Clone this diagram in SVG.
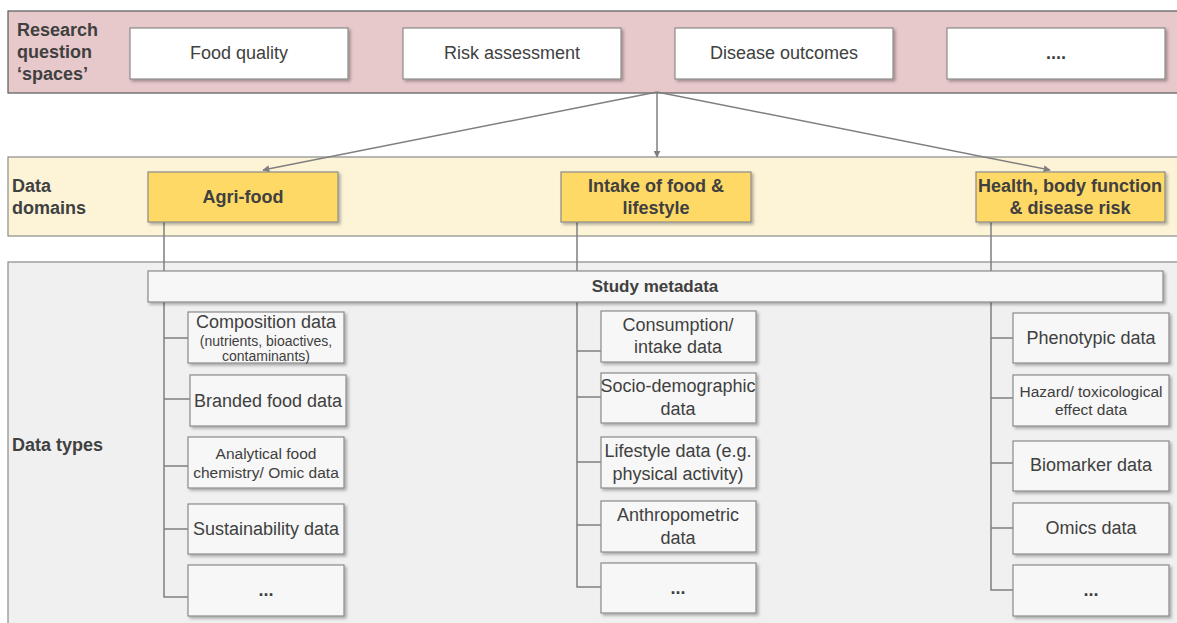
<svg xmlns="http://www.w3.org/2000/svg" width="1177" height="623" viewBox="0 0 1177 623">
  <style>
    text { font-family: "Liberation Sans", Arial, sans-serif; fill: #404040; }
    .lbl { font-size: 18px; font-weight: bold; }
    .q { fill: #ffffff; stroke: #8a8a8a; stroke-width: 1.2; }
    .qt { font-size: 18px; text-anchor: middle; }
    .dom { fill: #ffd966; stroke: #8a8a8a; stroke-width: 1.2; }
    .domt { font-size: 18px; font-weight: bold; text-anchor: middle; }
    .meta { font-size: 17px; font-weight: bold; text-anchor: middle; }
    .box { fill: #f7f7f7; stroke: #8a8a8a; stroke-width: 1.2; }
    .bt { font-size: 18px; text-anchor: middle; }
    .bs { font-size: 15.5px; text-anchor: middle; }
    .bxs { font-size: 14px; text-anchor: middle; }
    .dots { font-weight: bold; }
    .conn { fill: none; stroke: #7f7f7f; stroke-width: 1.5; }
  </style>
  <defs>
    <filter id="shadow" x="-10%" y="-10%" width="130%" height="140%">
      <feDropShadow dx="2" dy="2" stdDeviation="1.5" flood-color="#000" flood-opacity="0.3"/>
    </filter>
    <marker id="arrow" viewBox="0 0 10 10" refX="9" refY="5" markerWidth="7" markerHeight="7" orient="auto-start-reverse" markerUnits="userSpaceOnUse">
      <path d="M0,0 L10,5 L0,10 z" fill="#7f7f7f"/>
    </marker>
  </defs>

  <!-- background bands -->
  <g id="band-questions">
    <rect x="8" y="11" width="1175" height="82" fill="#e8c9cb" stroke="#595959" stroke-width="1.2"/>
    <text class="lbl" x="17" y="36">Research</text>
    <text class="lbl" x="17" y="58">question</text>
    <text class="lbl" x="17" y="80">‘spaces’</text>
  </g>
  <g id="band-domains">
    <rect x="8" y="157" width="1175" height="79" fill="#fdf4d8" stroke="#8a8a8a" stroke-width="1.2"/>
    <text class="lbl" x="12" y="192">Data</text>
    <text class="lbl" x="12" y="214">domains</text>
  </g>
  <g id="band-types">
    <rect x="8" y="262" width="1175" height="370" fill="#f0f0f0" stroke="#8a8a8a" stroke-width="1.2"/>
    <text class="lbl" x="12" y="451">Data types</text>
  </g>

  <!-- connectors -->
  <g id="connectors">
    <line class="conn" x1="657" y1="92" x2="263" y2="170" marker-end="url(#arrow)"/>
    <line class="conn" x1="657" y1="92" x2="657" y2="157" marker-end="url(#arrow)"/>
    <line class="conn" x1="657" y1="92" x2="1050" y2="170" marker-end="url(#arrow)"/>
    <path class="conn" d="M164,222 V597 H188 M164,338 H188 M164,399 H190 M164,466 H188 M164,529 H188"/>
    <path class="conn" d="M577,222 V587 H601 M577,351 H601 M577,397 H601 M577,462 H601 M577,525 H601"/>
    <path class="conn" d="M991,222 V590 H1013 M991,338 H1013 M991,398 H1013 M991,463 H1013 M991,528 H1013"/>
  </g>

  <!-- research question spaces -->
  <g id="q-food-quality"><rect class="q" x="130" y="28" width="218" height="51" filter="url(#shadow)"/><text class="qt" x="239" y="59">Food quality</text></g>
  <g id="q-risk"><rect class="q" x="403" y="28" width="218" height="51" filter="url(#shadow)"/><text class="qt" x="512" y="59">Risk assessment</text></g>
  <g id="q-disease"><rect class="q" x="675" y="28" width="218" height="51" filter="url(#shadow)"/><text class="qt" x="784" y="59">Disease outcomes</text></g>
  <g id="q-more"><rect class="q" x="947" y="28" width="218" height="51" filter="url(#shadow)"/><text class="qt dots" x="1056" y="59">....</text></g>

  <!-- data domains -->
  <g id="d-agrifood"><rect class="dom" x="148" y="172" width="190" height="50" filter="url(#shadow)"/><text class="domt" x="243" y="203">Agri-food</text></g>
  <g id="d-intake"><rect class="dom" x="561" y="172" width="190" height="50" filter="url(#shadow)"/><text class="domt" x="656" y="192">Intake of food &amp;</text><text class="domt" x="656" y="214">lifestyle</text></g>
  <g id="d-health"><rect class="dom" x="976" y="172" width="189" height="50" filter="url(#shadow)"/><text class="domt" x="1070" y="192">Health, body function</text><text class="domt" x="1070" y="214">&amp; disease risk</text></g>

  <!-- study metadata bar -->
  <g id="study-metadata"><rect class="box" x="148" y="271" width="1015" height="31" filter="url(#shadow)"/><text class="meta" x="655" y="292">Study metadata</text></g>

  <!-- agri-food data types -->
  <g id="t-composition"><rect class="box" x="188" y="312" width="156" height="51" filter="url(#shadow)"/><text class="bt" x="266" y="328">Composition data</text><text class="bxs" x="266" y="346">(nutrients, bioactives,</text><text class="bxs" x="266" y="361">contaminants)</text></g>
  <g id="t-branded"><rect class="box" x="190" y="375" width="156" height="51" filter="url(#shadow)"/><text class="bt" x="268" y="407">Branded food data</text></g>
  <g id="t-analytical"><rect class="box" x="188" y="437" width="156" height="51" filter="url(#shadow)"/><text class="bs" x="266" y="459">Analytical food</text><text class="bs" x="266" y="478">chemistry/ Omic data</text></g>
  <g id="t-sustainability"><rect class="box" x="188" y="504" width="156" height="50" filter="url(#shadow)"/><text class="bt" x="266" y="535">Sustainability data</text></g>
  <g id="t-agri-more"><rect class="box" x="188" y="565" width="156" height="51" filter="url(#shadow)"/><text class="bt dots" x="266" y="596">...</text></g>

  <!-- intake data types -->
  <g id="t-consumption"><rect class="box" x="601" y="311" width="155" height="51" filter="url(#shadow)"/><text class="bt" x="678" y="331">Consumption/</text><text class="bt" x="678" y="353">intake data</text></g>
  <g id="t-socio"><rect class="box" x="601" y="373" width="155" height="50" filter="url(#shadow)"/><text class="bt" x="678" y="392">Socio-demographic</text><text class="bt" x="678" y="415">data</text></g>
  <g id="t-lifestyle"><rect class="box" x="601" y="437" width="155" height="51" filter="url(#shadow)"/><text class="bt" x="678" y="457">Lifestyle data (e.g.</text><text class="bt" x="678" y="480">physical activity)</text></g>
  <g id="t-anthropometric"><rect class="box" x="601" y="501" width="155" height="51" filter="url(#shadow)"/><text class="bt" x="678" y="521">Anthropometric</text><text class="bt" x="678" y="544">data</text></g>
  <g id="t-intake-more"><rect class="box" x="601" y="563" width="155" height="50" filter="url(#shadow)"/><text class="bt dots" x="678" y="594">...</text></g>

  <!-- health data types -->
  <g id="t-phenotypic"><rect class="box" x="1013" y="313" width="156" height="50" filter="url(#shadow)"/><text class="bt" x="1091" y="344">Phenotypic data</text></g>
  <g id="t-hazard"><rect class="box" x="1013" y="375" width="156" height="51" filter="url(#shadow)"/><text class="bs" x="1091" y="397">Hazard/ toxicological</text><text class="bs" x="1091" y="415">effect data</text></g>
  <g id="t-biomarker"><rect class="box" x="1013" y="441" width="156" height="50" filter="url(#shadow)"/><text class="bt" x="1091" y="471">Biomarker data</text></g>
  <g id="t-omics"><rect class="box" x="1013" y="503" width="156" height="51" filter="url(#shadow)"/><text class="bt" x="1091" y="534">Omics data</text></g>
  <g id="t-health-more"><rect class="box" x="1013" y="565" width="156" height="51" filter="url(#shadow)"/><text class="bt dots" x="1091" y="596">...</text></g>
</svg>
